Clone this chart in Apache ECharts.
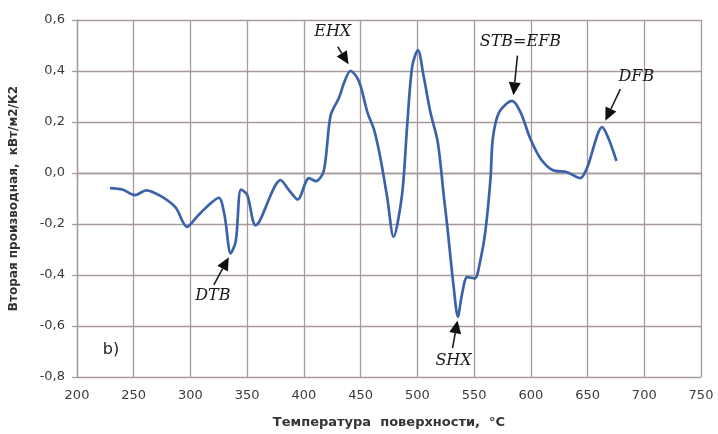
<!DOCTYPE html>
<html><head><meta charset="utf-8">
<script src="https://cdn.jsdelivr.net/npm/echarts@6/dist/echarts.min.js"></script>
<style>html,body{margin:0;padding:0;background:#fff}#c{width:718px;height:434px}</style>
</head><body><div id="c"></div>
<script>
// ---- data ----
const temperature = [229,240,251,261,274,287,297,306,315,325,330,335.5,340,344.5,350,357.5,379.5,387,394.5,404.5,410.5,417.5,423.5,431,435.5,441,446,450,456,462,467.5,473.5,479,486.5,491,495.5,500.5,505.5,511.5,518,523.5,526.5,532,535.7,539.5,544,550.5,555.5,560,564.5,566.5,572,583.5,591,599.5,608.5,619,632,643.5,649.5,663,668.5,675.5];
const secondDerivative = [-0.059,-0.065,-0.087,-0.068,-0.091,-0.136,-0.211,-0.170,-0.130,-0.097,-0.165,-0.315,-0.266,-0.065,-0.085,-0.205,-0.028,-0.068,-0.104,-0.020,-0.032,0.008,0.225,0.296,0.355,0.400,0.380,0.341,0.238,0.167,0.057,-0.098,-0.250,-0.085,0.186,0.419,0.482,0.380,0.238,0.120,-0.098,-0.214,-0.447,-0.563,-0.472,-0.408,-0.414,-0.343,-0.227,-0.020,0.135,0.238,0.283,0.238,0.135,0.057,0.012,0.003,-0.020,0.019,0.180,0.135,0.047];
const xTickValues = [200,250,300,350,400,450,500,550,600,650,700,750];
const yTickValues = [-0.8,-0.6,-0.4,-0.2,0.0,0.2,0.4,0.6];
const annotationLabels = ['EHX','DTB','SHX','STB=EFB','DFB'];
const annotationTextAt = [[425.4,0.553],[319.7,-0.481],[531.9,-0.737],[590.8,0.515],[693,0.379]];
const arrowFrom = [[429.8,0.495],[320.6,-0.439],[531,-0.687],[588.2,0.460],[678.9,0.329]];
const arrowTo = [[439.4,0.426],[333.8,-0.330],[535.4,-0.578],[584.7,0.305],[665.7,0.205]];
const panelLabel = 'b)';
const panelLabelAt = [229.9,-0.695];

const gridColor = '#a89a9a';
const chart = echarts.init(document.getElementById('c'), null, {renderer:'canvas'});
const fmt = v => (Math.round(v*10)/10).toFixed(1).replace('.', ',');

chart.setOption({
  backgroundColor:'#fff',
  animation:false,
  grid:{left:76,right:17,top:20,bottom:53,containLabel:false},
  xAxis:{
    type:'value', min:xTickValues[0], max:xTickValues[xTickValues.length-1], interval:50,
    name:'Температура  поверхности,  °С', nameLocation:'middle', nameGap:39,
    nameTextStyle:{fontFamily:'DejaVu Sans', fontWeight:'bold', fontSize:13, color:'#333'},
    axisLine:{show:true, lineStyle:{color:gridColor, width:1.3}},
    axisTick:{show:true, length:5, lineStyle:{color:gridColor, width:1.3}},
    axisLabel:{margin:12, fontFamily:'DejaVu Sans', fontSize:13, color:'#3a3a3a'},
    splitLine:{show:true, lineStyle:{color:gridColor, width:1.3}}
  },
  yAxis:{
    type:'value', min:yTickValues[0], max:yTickValues[yTickValues.length-1], interval:0.2,
    name:'Вторая производная,  кВт/м2/К2', nameLocation:'middle', nameGap:57,
    nameTextStyle:{fontFamily:'DejaVu Sans', fontWeight:'bold', fontSize:12, color:'#333'},
    axisLine:{show:true, lineStyle:{color:gridColor, width:1.3}},
    axisTick:{show:true, length:5, lineStyle:{color:gridColor, width:1.3}},
    axisLabel:{margin:12, fontFamily:'DejaVu Sans', fontSize:13, color:'#3a3a3a', formatter:fmt},
    splitLine:{show:true, lineStyle:{color:gridColor, width:1.3}}
  },
  series:[{
    type:'line', data: temperature.map((x,i)=>[x, secondDerivative[i]]),
    smooth:0.3, showSymbol:false, symbol:'none',
    lineStyle:{color:'#3b62aa', width:2.7}
  }]
});

// annotations placed through the axes' own coordinate conversion
const px = c => chart.convertToPixel({gridIndex:0}, c);
const elements = [];
annotationLabels.forEach((t,i)=>{
  const p = px(annotationTextAt[i]);
  elements.push({type:'text', x:p[0], y:p[1], silent:true,
    style:{text:t, font:'italic 16px "DejaVu Serif"', fill:'#1a1a1a', align:'center', verticalAlign:'middle'}});
  const a = px(arrowFrom[i]), b = px(arrowTo[i]);
  const dx = b[0]-a[0], dy = b[1]-a[1], L = Math.hypot(dx,dy), ux = dx/L, uy = dy/L;
  const head = 13, half = 6;
  const base = [b[0]-ux*head, b[1]-uy*head];
  elements.push({type:'line', silent:true, shape:{x1:a[0],y1:a[1],x2:base[0],y2:base[1]},
    style:{stroke:'#1e1e1e', lineWidth:1.6}});
  elements.push({type:'polygon', silent:true,
    shape:{points:[[b[0],b[1]],[base[0]-uy*half, base[1]+ux*half],[base[0]+uy*half, base[1]-ux*half]]},
    style:{fill:'#111'}});
});
const pl = px(panelLabelAt);
elements.push({type:'text', x:pl[0], y:pl[1], silent:true,
  style:{text:panelLabel, font:'16px "DejaVu Sans"', fill:'#222', align:'center', verticalAlign:'middle'}});
chart.setOption({graphic:{elements}});
</script></body></html>
